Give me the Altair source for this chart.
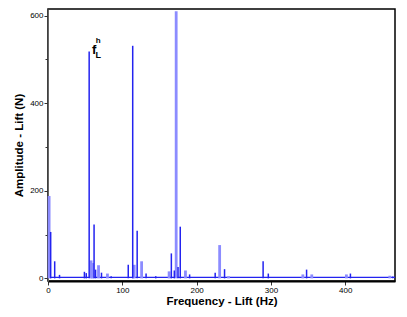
import altair as alt
import pandas as pd

# dark-blue spectrum (frequency Hz, amplitude N)
dark_freq = [3.6, 9, 15.5, 49, 51.5, 55.4, 62, 64, 72, 85, 108, 114, 120, 132, 145,
             166, 170, 175, 178, 190.6, 225, 237.6, 289.5, 296.5, 348, 407, 464]
dark_amp = [106, 39, 8, 15, 12, 518, 123, 20, 13, 5, 31, 531, 109, 11, 5,
            57, 18, 26, 118, 9, 13, 21, 39, 11, 20, 11, 4]

# light-blue spectrum
light_freq = [1.5, 58, 60, 68, 80, 116, 126, 163, 172.5, 185, 231, 243, 343, 355, 401.6, 460]
light_amp = [188, 41, 35, 30, 11, 31, 39, 16, 610, 18, 76, 5, 9, 9, 9, 6]

noise_floor = 2.5
x_ticks = [0, 50, 100, 150, 200, 250, 300, 350, 400, 450]
y_ticks = [0, 100, 200, 300, 400, 500, 600]

dark = pd.DataFrame({"f": dark_freq, "a": dark_amp})
light = pd.DataFrame({"f": light_freq, "a": light_amp})
ann = pd.DataFrame({"f": [62, 67.5, 67.5], "a": [522, 541, 511], "t": ["f", "h", "L"],
                    "s": [13, 8, 9]})

DARK = "#2323f0"
LIGHT = "#8c8cff"

XMAX = 467
xs = alt.Scale(domain=[0, XMAX], nice=False, zero=False)
ys = alt.Scale(domain=[-6, 615], nice=False, zero=False)

x_axis = alt.Axis(
    title="Frequency - Lift (Hz)", values=x_ticks, grid=False,
    labelExpr="datum.value % 100 === 0 ? datum.label : ''",
    tickSize={"condition": {"test": "datum.value % 100 === 0", "value": 4}, "value": 3},
    labelFlush=False, labelPadding=1, titlePadding=1,
    domainColor="black", domainWidth=2, tickColor="#333",
)
y_axis = alt.Axis(
    title="Amplitude - Lift (N)", values=y_ticks, grid=False,
    labelExpr="datum.value % 200 === 0 ? datum.label : ''",
    tickSize={"condition": {"test": "datum.value % 200 === 0", "value": 4}, "value": 3},
    labelFlush=False, labelPadding=1, titlePadding=5,
    domainColor="#666", domainWidth=1, tickColor="#333",
)

floor = alt.Chart(pd.DataFrame({"v": [noise_floor]})).mark_rule(color=DARK, strokeWidth=1.2).encode(
    y=alt.Y("v:Q", scale=ys, axis=y_axis),
    x=alt.datum(0, scale=xs),
    x2=alt.datum(XMAX),
)

light_rules = alt.Chart(light).mark_rule(color=LIGHT, strokeWidth=2.8).encode(
    x=alt.X("f:Q", scale=xs, axis=x_axis),
    y=alt.Y("a:Q", scale=ys, axis=y_axis),
    y2=alt.datum(0),
)

dark_rules = alt.Chart(dark).mark_rule(color=DARK, strokeWidth=1.5).encode(
    x=alt.X("f:Q", scale=xs, axis=x_axis),
    y=alt.Y("a:Q", scale=ys, axis=y_axis),
    y2=alt.datum(0),
)

label = alt.Chart(ann).mark_text(font="Liberation Sans", color="black", fontWeight="bold").encode(
    x=alt.X("f:Q", scale=xs),
    y=alt.Y("a:Q", scale=ys),
    text="t:N",
    size=alt.Size("s:Q", scale=None, legend=None),
)

chart = alt.layer(floor, light_rules, dark_rules, label).properties(
    width=347, height=272,
    autosize=alt.AutoSizeParams(type="none"),
    padding={"left": 40, "top": 1, "right": 4, "bottom": 27},
).configure_view(stroke="black", strokeWidth=1.5).configure_axis(
    labelFont="Liberation Sans", labelFontSize=8, labelColor="black",
    titleFont="Liberation Sans", titleFontSize=11.5, titleFontWeight="bold", titleColor="black",
)

chart.save("out.html", embed_options={"renderer": "svg", "actions": False})
